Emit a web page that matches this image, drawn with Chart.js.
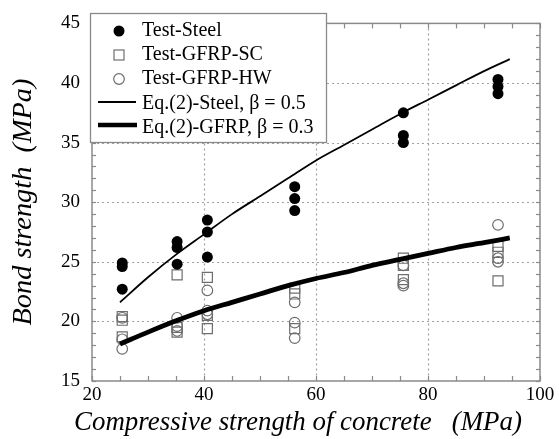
<!DOCTYPE html>
<html>
<head>
<meta charset="utf-8">
<script src="https://cdn.jsdelivr.net/npm/chart.js@4"></script>
<style>
  html, body { margin: 0; padding: 0; background: #fff; }
  #wrap { width: 559px; height: 439px; }
</style>
</head>
<body>
<div id="wrap"><canvas id="bondChart" width="559" height="439"></canvas></div>
<script>
// concrete strength groups (MPa)
const steelX = [25.4, 25.4, 25.4, 35.2, 35.2, 35.2, 40.6, 40.6, 40.6, 56.2, 56.2, 56.2, 75.6, 75.6, 75.6, 92.5, 92.5, 92.5];
const steelY = [24.9, 24.6, 22.7, 26.7, 26.2, 24.8, 28.5, 27.5, 25.4, 31.3, 30.3, 29.3, 37.5, 35.6, 35.0, 40.3, 39.7, 39.1];

const scX = [25.4, 25.4, 25.4, 35.2, 35.2, 35.2, 40.6, 40.6, 40.6, 56.2, 56.2, 56.2, 75.6, 75.6, 75.6, 92.5, 92.5, 92.5];
const scY = [20.4, 20.1, 18.7, 23.9, 19.5, 19.1, 23.7, 20.5, 19.4, 22.8, 22.3, 19.4, 25.3, 24.7, 23.5, 26.3, 25.8, 23.4];

const hwX = [25.4, 25.4, 25.4, 35.2, 35.2, 35.2, 40.6, 40.6, 40.6, 56.2, 56.2, 56.2, 75.6, 75.6, 75.6, 92.5, 92.5, 92.5];
const hwY = [20.3, 18.5, 17.7, 20.3, 19.6, 19.2, 22.6, 20.9, 20.6, 21.6, 19.9, 18.6, 24.7, 23.2, 23.0, 28.1, 25.3, 25.0];

// Eq.(2) prediction curves
const eqX = [25, 30, 35, 40, 45, 50, 55, 60, 65, 70, 75, 80, 85, 90, 94.6];
const eqSteelY = [21.6, 23.7, 25.6, 27.3, 29.0, 30.5, 32.0, 33.5, 34.8, 36.1, 37.4, 38.6, 39.8, 41.0, 42.0];
const eqGfrpY = [18.1, 19.1, 20.05, 20.9, 21.6, 22.3, 23.0, 23.6, 24.1, 24.7, 25.2, 25.7, 26.2, 26.6, 27.0];

const legendLabels = ['Test-Steel', 'Test-GFRP-SC', 'Test-GFRP-HW', 'Eq.(2)-Steel, \u03b2 = 0.5', 'Eq.(2)-GFRP, \u03b2 = 0.3'];
const xTitle = 'Compressive strength of concrete   (MPa)';
const yTitle = 'Bond strength  (MPa)';

const FRAME = '#8a8a8a';
const GRID = '#a0a0a0';
const MARK = '#6e6e6e';
const SERIF = '"Liberation Serif", "Times New Roman", serif';

function pts(xs, ys) {
    return xs.map((x, i) => ({ x: x, y: ys[i] }));
}

function majorX(v) { return v % 20 === 0 && v > 20 && v < 100; }
function majorY(v) { return v % 5 === 0 && v > 15 && v < 45; }

function seg(ctx, x1, y1, x2, y2) {
    ctx.beginPath();
    ctx.moveTo(x1, y1);
    ctx.lineTo(x2, y2);
    ctx.stroke();
}

// italic serif sized so the string spans the given length
function fitItalic(ctx, text, span) {
    ctx.font = 'italic 100px ' + SERIF;
    const size = 100 * span / ctx.measureText(text).width;
    ctx.font = 'italic ' + size.toFixed(2) + 'px ' + SERIF;
}

// dotted grid, inward ticks on all four sides and the box frame
const plotFrame = {
    id: 'plotFrame',
    beforeDatasetsDraw(chart) {
        const { ctx, chartArea: a, scales: { x, y } } = chart;
        ctx.save();
        ctx.strokeStyle = GRID;
        ctx.lineWidth = 1.2;
        ctx.setLineDash([2, 3]);
        x.ticks.forEach(t => {
            if (!majorX(t.value)) return;
            const px = Math.round(x.getPixelForValue(t.value)) + 0.5;
            seg(ctx, px, a.top, px, a.bottom);
        });
        y.ticks.forEach(t => {
            if (!majorY(t.value)) return;
            const py = Math.round(y.getPixelForValue(t.value)) + 0.5;
            seg(ctx, a.left, py, a.right, py);
        });
        ctx.setLineDash([]);

        ctx.strokeStyle = FRAME;
        ctx.lineWidth = 1.2;
        x.ticks.forEach(t => {
            const px = Math.round(x.getPixelForValue(t.value)) + 0.5;
            seg(ctx, px, a.bottom, px, a.bottom - 5);
            seg(ctx, px, a.top, px, a.top + 5);
        });
        y.ticks.forEach(t => {
            const py = Math.round(y.getPixelForValue(t.value)) + 0.5;
            seg(ctx, a.left, py, a.left + 4, py);
            seg(ctx, a.right, py, a.right - 4, py);
        });

        ctx.lineWidth = 1.5;
        ctx.strokeRect(a.left, a.top, a.right - a.left, a.bottom - a.top);
        ctx.restore();
    }
};

// axis titles: italic, slightly left of the plot centre on the x axis
const axisTitles = {
    id: 'axisTitles',
    afterDraw(chart) {
        const ctx = chart.ctx;
        ctx.save();
        ctx.fillStyle = '#000';
        ctx.textAlign = 'center';
        ctx.textBaseline = 'middle';
        fitItalic(ctx, xTitle, 448);
        ctx.fillText(xTitle, 298, 423);
        ctx.translate(24, 202);
        ctx.rotate(-Math.PI / 2);
        fitItalic(ctx, yTitle, 247);
        ctx.fillText(yTitle, 0, 0);
        ctx.restore();
    }
};

// boxed legend in the upper left corner of the plot
const boxLegend = {
    id: 'boxLegend',
    afterDraw(chart) {
        const ctx = chart.ctx;
        ctx.save();
        ctx.fillStyle = '#fff';
        ctx.fillRect(90, 13, 237, 130);
        ctx.strokeStyle = FRAME;
        ctx.lineWidth = 1.3;
        ctx.strokeRect(90.5, 13.5, 236, 129);

        const rows = [31, 55, 79, 104, 128];
        const cx = 119;
        // filled circle
        ctx.fillStyle = '#000';
        ctx.beginPath();
        ctx.arc(cx, rows[0], 5.5, 0, Math.PI * 2);
        ctx.fill();
        // open square
        ctx.strokeStyle = MARK;
        ctx.lineWidth = 1.2;
        ctx.strokeRect(cx - 5, rows[1] - 5, 10, 10);
        // open circle
        ctx.beginPath();
        ctx.arc(cx, rows[2], 5.3, 0, Math.PI * 2);
        ctx.stroke();
        // thin and thick lines
        ctx.strokeStyle = '#000';
        ctx.lineWidth = 1.8;
        seg(ctx, 98, rows[3] - 2, 136, rows[3] - 2);
        ctx.lineWidth = 4.5;
        seg(ctx, 98, rows[4] - 3, 137, rows[4] - 3);

        ctx.fillStyle = '#000';
        ctx.font = '20px ' + SERIF;
        ctx.textBaseline = 'middle';
        ctx.textAlign = 'left';
        legendLabels.forEach((t, i) => ctx.fillText(t, 142, rows[i]));
        ctx.restore();
    }
};

const ctx = document.getElementById('bondChart').getContext('2d');
const bondChart = new Chart(ctx, {
    type: 'scatter',
    data: {
        datasets: [
            {
                label: legendLabels[3],
                data: pts(eqX, eqSteelY),
                showLine: true,
                borderColor: '#000',
                borderWidth: 1.8,
                pointRadius: 0,
                cubicInterpolationMode: 'monotone'
            },
            {
                label: legendLabels[4],
                data: pts(eqX, eqGfrpY),
                showLine: true,
                borderColor: '#000',
                borderWidth: 4.8,
                pointRadius: 0,
                cubicInterpolationMode: 'monotone'
            },
            {
                label: legendLabels[0],
                data: pts(steelX, steelY),
                pointStyle: 'circle',
                pointRadius: 5.5,
                backgroundColor: '#000',
                borderColor: '#000',
                borderWidth: 0
            },
            {
                label: legendLabels[1],
                data: pts(scX, scY),
                pointStyle: 'rect',
                pointRadius: 7.1,
                backgroundColor: 'rgba(0,0,0,0)',
                borderColor: MARK,
                borderWidth: 1.2
            },
            {
                label: legendLabels[2],
                data: pts(hwX, hwY),
                pointStyle: 'circle',
                pointRadius: 5.3,
                backgroundColor: 'rgba(0,0,0,0)',
                borderColor: MARK,
                borderWidth: 1.2
            }
        ]
    },
    options: {
        responsive: false,
        animation: false,
        events: [],
        layout: { padding: { top: 19, right: 19, left: 0, bottom: 0 } },
        plugins: {
            legend: { display: false },
            tooltip: { enabled: false }
        },
        scales: {
            x: {
                type: 'linear',
                position: 'bottom',
                min: 20,
                max: 100,
                afterFit: s => { s.height = 58; },
                ticks: {
                    stepSize: 5,
                    autoSkip: false,
                    maxRotation: 0,
                    padding: 3,
                    color: '#000',
                    font: { family: SERIF, size: 19 },
                    callback: v => (v % 20 === 0 ? v : '')
                },
                grid: { display: false, drawTicks: false, tickLength: 0 },
                border: { display: false }
            },
            y: {
                type: 'linear',
                position: 'left',
                min: 15,
                max: 45,
                afterFit: s => { s.width = 92; },
                ticks: {
                    stepSize: 1,
                    autoSkip: false,
                    padding: 12,
                    color: '#000',
                    font: { family: SERIF, size: 19 },
                    callback: v => (v % 5 === 0 ? v : '')
                },
                grid: { display: false, drawTicks: false, tickLength: 0 },
                border: { display: false }
            }
        }
    },
    plugins: [plotFrame, axisTitles, boxLegend]
});
</script>
</body>
</html>
